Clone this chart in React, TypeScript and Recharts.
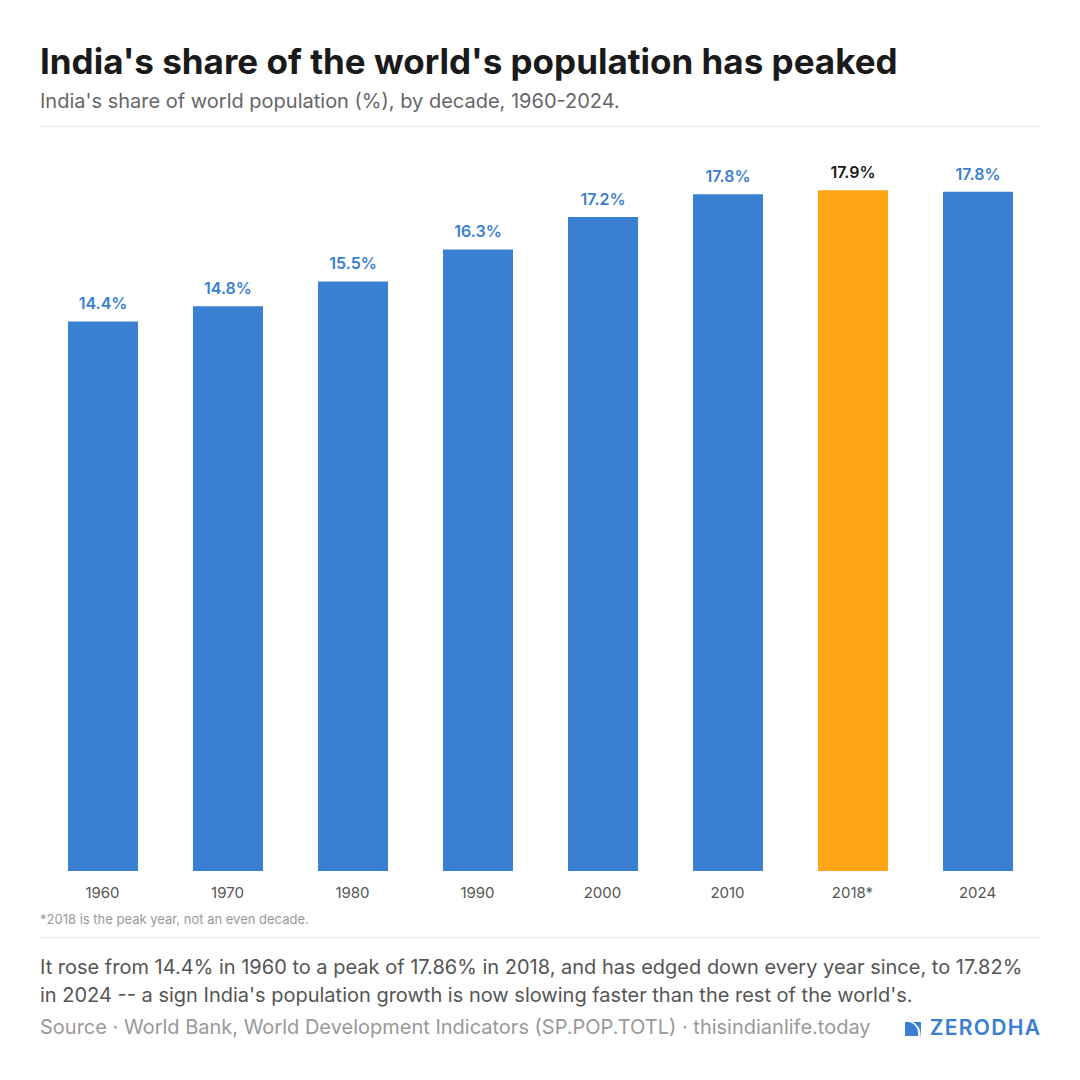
import React from "react";
import { BarChart, Bar, XAxis, YAxis, LabelList, Cell } from "recharts";

const years = ["1960", "1970", "1980", "1990", "2000", "2010", "2018*", "2024"];
const shares = [14.42, 14.82, 15.47, 16.31, 17.16, 17.76, 17.86, 17.82];
const highlight = [false, false, false, false, false, false, true, false];

const BLUE = "#3a7fd1";
const ORANGE = "#ffa516";

const data = years.map((y, i) => ({ year: y, share: shares[i], hl: highlight[i] }));

const ValueLabel = (props: any) => {
  const { x, y, width, value, index } = props;
  const hl = highlight[index];
  return (
    <text
      x={x + width / 2}
      y={y - 12}
      textAnchor="middle"
      fill={hl ? "#1a1a1a" : BLUE}
      fontSize={16}
      fontWeight={600}
      fontFamily="Inter"
    >
      {Number(value).toFixed(1)}%
    </text>
  );
};

export default function App() {
  return (
    <div
      style={{
        position: "relative",
        width: 1080,
        height: 1080,
        background: "#fff",
        fontFamily: "Inter, 'Noto Sans', sans-serif",
        overflow: "hidden",
      }}
    >
      <style>{`body{margin:0}`}</style>
      <div
        style={{
          position: "absolute",
          left: 40,
          top: 41,
          fontSize: 35,
          lineHeight: "40px",
          fontWeight: 700,
          color: "#1a1a1a",
          whiteSpace: "nowrap",
        }}
      >
        India's share of the world's population has peaked
      </div>
      <div
        style={{
          position: "absolute",
          left: 40,
          top: 89,
          fontSize: 20,
          lineHeight: "24px",
          color: "#666",
          whiteSpace: "nowrap",
        }}
      >
        India's share of world population (%), by decade, 1960-2024.
      </div>
      <div style={{ position: "absolute", left: 40, top: 126, width: 1000, height: 1, background: "#e9e9e9" }} />

      <div style={{ position: "absolute", left: 40, top: 140 }}>
        <BarChart
          width={1000}
          height={761}
          data={data}
          margin={{ top: 45, right: 0, bottom: 0, left: 0 }}
          barSize={70}
        >
          <YAxis hide domain={[0, 18]} />
          <XAxis
            dataKey="year"
            axisLine={false}
            tickLine={false}
            tickSize={0}
            tickMargin={16}
            height={30}
            interval={0}
            tick={{ fill: "#555", fontSize: 15, fontFamily: "Inter" }}
          />
          <Bar dataKey="share" isAnimationActive={false}>
            {data.map((d, i) => (
              <Cell key={i} fill={d.hl ? ORANGE : BLUE} />
            ))}
            <LabelList dataKey="share" content={ValueLabel} />
          </Bar>
        </BarChart>
      </div>

      <div
        style={{
          position: "absolute",
          left: 40,
          top: 911,
          fontSize: 13,
          lineHeight: "16px",
          color: "#999",
          whiteSpace: "nowrap",
        }}
      >
        *2018 is the peak year, not an even decade.
      </div>
      <div style={{ position: "absolute", left: 40, top: 937, width: 1000, height: 1, background: "#e9e9e9" }} />

      <div
        style={{
          position: "absolute",
          left: 40,
          top: 953,
          width: 1000,
          fontSize: 20,
          lineHeight: "28px",
          color: "#555",
        }}
      >
        It rose from 14.4% in 1960 to a peak of 17.86% in 2018, and has edged down every year since, to 17.82% in 2024 -- a sign India's population growth is now slowing faster than the rest of the world's.
      </div>

      <div
        style={{
          position: "absolute",
          left: 40,
          top: 1015,
          fontSize: 20,
          lineHeight: "24px",
          color: "#999",
          whiteSpace: "nowrap",
        }}
      >
        Source · World Bank, World Development Indicators (SP.POP.TOTL) · thisindianlife.today
      </div>

      <div
        style={{
          position: "absolute",
          right: 40,
          top: 1015,
          display: "flex",
          alignItems: "center",
          gap: 9,
          color: BLUE,
          fontSize: 21,
          lineHeight: "26px",
          fontWeight: 600,
          letterSpacing: 1.3,
        }}
      >
        <svg width={16} height={16} viewBox="0 0 16 16">
          <path d="M0 2 H4 A12 12 0 0 1 13 16 H0 Z" fill={BLUE} />
          <path d="M8 2 H16 V16 H15.5 A14 14 0 0 0 8 2 Z" fill={BLUE} />
        </svg>
        <span style={{ marginRight: -1.3 }}>ZERODHA</span>
      </div>
    </div>
  );
}
